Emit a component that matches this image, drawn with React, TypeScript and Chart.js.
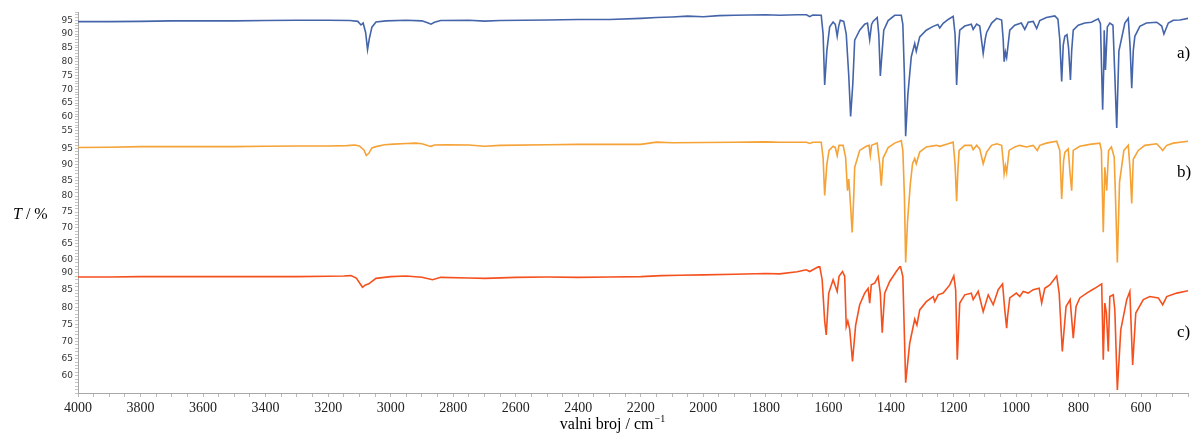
import { useEffect, useRef } from 'react';
import { Chart, registerables } from 'chart.js';

Chart.register(...registerables);

// Wavenumbers (cm^-1) and transmittance (%) for spectrum a)
const waveA = [4000, 3900, 3800, 3700, 3600, 3500, 3400, 3300, 3200, 3130, 3105, 3095, 3088, 3080, 3074, 3068, 3060, 3047, 3015, 2950, 2900, 2880, 2871, 2860, 2840, 2750, 2700, 2650, 2500, 2400, 2300, 2200, 2150, 2100, 2050, 2000, 1950, 1900, 1850, 1800, 1756, 1700, 1670, 1660, 1650, 1623, 1617, 1612, 1605, 1596, 1585, 1578, 1572, 1567, 1562, 1551, 1543, 1535, 1529, 1522, 1516, 1500, 1484, 1475, 1468, 1462, 1457, 1444, 1439, 1434, 1428, 1423, 1409, 1388, 1367, 1362, 1357, 1353, 1346, 1335, 1324, 1319, 1308, 1287, 1265, 1250, 1244, 1233, 1217, 1201, 1195, 1190, 1185, 1180, 1164, 1143, 1137, 1126, 1116, 1105, 1098, 1094, 1078, 1062, 1046, 1041, 1038, 1034, 1030, 1020, 1004, 983, 972, 961, 945, 934, 924, 903, 876, 866, 860, 854, 849, 844, 837, 832, 826, 822, 817, 801, 780, 759, 737, 730, 723, 719, 718, 714, 708, 700, 690, 684, 678, 671, 652, 641, 635, 630, 625, 620, 604, 583, 550, 534, 527, 513, 497, 476, 449];
const transA = [94.5, 94.5, 94.6, 94.8, 94.8, 94.8, 94.9, 95.0, 95.0, 94.9, 94.6, 93.3, 94.0, 90.5, 84.4, 88.5, 92.5, 94.4, 94.8, 95.0, 94.8, 94.0, 93.6, 94.3, 94.9, 95.0, 94.7, 94.9, 95.1, 95.3, 95.3, 95.7, 96.0, 96.2, 96.5, 96.3, 96.7, 96.8, 96.9, 97.0, 96.8, 97.0, 97.0, 96.3, 96.9, 96.8, 90, 71.6, 84, 92.6, 94.4, 93.5, 89.2, 93, 95.0, 94.6, 90, 75, 60.2, 72, 87.8, 91.4, 93.6, 94.0, 88.0, 93.5, 94.6, 96.0, 90, 74.8, 84, 91.4, 94.9, 96.8, 96.8, 93.5, 75, 53.0, 68, 81.8, 86.6, 83.8, 89.0, 91.4, 92.8, 93.5, 92.2, 93.9, 95.3, 96.4, 90, 71.6, 84, 91.4, 92.9, 93.6, 91.7, 93.6, 92.9, 83.0, 88.5, 90.6, 94.0, 95.7, 95.1, 88, 80.0, 83.5, 81.5, 91.4, 93.2, 94.0, 91.7, 94.3, 94.6, 92.0, 94.9, 96.0, 96.6, 95.4, 88, 72.8, 86, 89.2, 89.8, 85, 73.4, 84, 91.4, 93.2, 94.0, 94.3, 95.5, 93.8, 62.6, 80, 91.4, 77.0, 92.6, 94.0, 93.2, 75, 56.0, 83.8, 94.0, 95.7, 85, 70.4, 84, 89.2, 92.8, 94.0, 94.3, 92.9, 90.0, 94.0, 95.0, 95.1, 95.7];

// Spectrum b)
const waveB = [4000, 3900, 3800, 3700, 3500, 3400, 3300, 3200, 3140, 3115, 3100, 3085, 3078, 3070, 3060, 3047, 3020, 2990, 2950, 2920, 2900, 2880, 2871, 2860, 2820, 2750, 2700, 2650, 2500, 2400, 2300, 2200, 2150, 2100, 2000, 1900, 1800, 1756, 1670, 1660, 1650, 1623, 1617, 1612, 1605, 1598, 1585, 1578, 1572, 1566, 1553, 1545, 1539, 1535, 1532, 1528, 1524, 1519, 1516, 1500, 1479, 1470, 1466, 1462, 1444, 1436, 1431, 1425, 1409, 1388, 1367, 1362, 1357, 1353, 1347, 1338, 1331, 1324, 1319, 1308, 1287, 1255, 1244, 1217, 1201, 1195, 1190, 1186, 1182, 1164, 1143, 1137, 1126, 1116, 1105, 1094, 1078, 1062, 1046, 1041, 1038, 1034, 1030, 1022, 1004, 988, 967, 945, 932, 924, 903, 870, 860, 854, 848, 844, 833, 828, 822, 817, 796, 764, 732, 727, 721, 716, 710, 704, 695, 686, 682, 676, 669, 655, 641, 635, 630, 625, 609, 588, 550, 536, 531, 518, 497, 449];
const transB = [95.3, 95.4, 95.6, 95.6, 95.6, 95.7, 95.8, 95.8, 95.9, 96.1, 95.8, 94.5, 92.8, 93.5, 95.2, 95.6, 96.2, 96.4, 96.6, 96.7, 96.5, 95.9, 95.7, 96.1, 96.2, 96.1, 95.7, 96.0, 96.2, 96.3, 96.3, 96.3, 97.0, 96.8, 96.9, 97.0, 97.1, 97.0, 97.0, 96.6, 97.0, 97.0, 92, 80.2, 90, 94.4, 95.7, 95.3, 92.8, 96, 96.0, 92.2, 81.7, 85.4, 81.3, 75, 68.6, 80, 89.1, 94.4, 95.7, 96.0, 92.8, 96.0, 96.7, 90, 83.3, 92, 95.3, 96.7, 97.5, 94.4, 80, 59.1, 72, 83.9, 90.2, 91.8, 90.2, 93.9, 95.5, 96.0, 95.7, 96.5, 97.0, 90, 78.4, 88, 94.4, 96.0, 96.0, 94.6, 96.0, 94.9, 90.2, 93.9, 96.0, 96.5, 96.0, 91, 87.0, 89.6, 87.5, 94.4, 95.5, 96.0, 95.5, 96.0, 94.4, 96.0, 96.7, 97.3, 94.4, 79.1, 91, 93.8, 94.9, 88, 81.7, 94.4, 95.7, 96.3, 96.7, 94.4, 68.6, 89.1, 81.7, 94.4, 95.5, 92.3, 80, 59.1, 84.4, 94.4, 96.0, 88, 77.7, 91.6, 94.4, 96.0, 96.5, 95, 94.4, 96.0, 96.7, 97.3];

// Spectrum c)
const waveC = [4000, 3900, 3800, 3700, 3500, 3400, 3300, 3200, 3150, 3127, 3110, 3090, 3082, 3070, 3047, 3000, 2951, 2900, 2866, 2840, 2750, 2698, 2600, 2500, 2400, 2300, 2200, 2134, 2076, 2000, 1900, 1800, 1756, 1700, 1671, 1660, 1628, 1620, 1612, 1607, 1599, 1585, 1572, 1566, 1555, 1548, 1543, 1538, 1532, 1523, 1513, 1500, 1484, 1473, 1468, 1463, 1452, 1441, 1434, 1428, 1420, 1404, 1383, 1370, 1362, 1353, 1340, 1324, 1317, 1308, 1287, 1265, 1260, 1249, 1233, 1212, 1199, 1193, 1188, 1180, 1164, 1143, 1137, 1121, 1105, 1089, 1073, 1057, 1043, 1036, 1030, 1027, 1020, 999, 988, 977, 961, 945, 926, 918, 908, 892, 870, 862, 852, 840, 827, 817, 808, 796, 774, 748, 726, 721, 716, 711, 705, 700, 689, 684, 676, 665, 646, 636, 627, 617, 593, 572, 545, 531, 518, 486, 449];
const transC = [88.8, 88.8, 88.9, 88.9, 88.9, 88.9, 88.9, 89.0, 89.1, 89.2, 88.5, 85.8, 86.4, 86.8, 88.4, 88.9, 89.1, 88.7, 88.0, 88.7, 88.5, 88.4, 88.7, 88.8, 88.7, 88.8, 88.9, 89.2, 89.3, 89.4, 89.6, 89.8, 89.7, 90.3, 90.9, 90.4, 92.0, 88, 76, 71.9, 84.1, 88.0, 84.6, 89, 90.4, 89, 74.4, 76, 73.6, 64.2, 74.7, 80.7, 84.1, 85.5, 81.2, 86.5, 87, 88.9, 84, 72.6, 84.1, 87.5, 90.4, 92.0, 88.9, 58.0, 69.5, 76.5, 74.8, 79.2, 81.6, 83.1, 81.6, 83.6, 84.1, 86.5, 89.1, 85, 64.7, 81.2, 83.6, 84.1, 82.2, 84.6, 78.7, 83.6, 80.7, 85.1, 86.8, 79.2, 73.9, 77.3, 82.7, 84.1, 83.1, 84.6, 84.1, 85.1, 85.5, 81.2, 85.5, 86.5, 89.1, 84.1, 67.1, 80.2, 82.2, 71.0, 80.2, 82.7, 84.1, 85.5, 86.8, 64.7, 81.2, 78.3, 67.1, 83.1, 83.6, 79.2, 55.9, 73.4, 82.2, 84.6, 63.2, 78.3, 82.2, 83.1, 82.7, 80.7, 83.1, 84.1, 84.8];

const seriesLabels = ['a)', 'b)', 'c)'];
const seriesColors = ['#4565aa', '#f5a236', '#f5511f'];

const xTitle = 'valni broj / cm';
const xTitleSup = '\u22121';
const yTitleItalic = 'T';
const yTitleRest = ' / %';

const zip = (xs: number[], ys: number[]) => xs.map((x, i) => ({ x, y: ys[i] }));

const textPlugin = {
  id: 'extraText',
  afterDraw(chart: any) {
    const ctx = chart.ctx as CanvasRenderingContext2D;
    const area = chart.chartArea;
    ctx.save();
    ctx.fillStyle = '#000';
    ctx.textBaseline = 'middle';
    ctx.textAlign = 'left';
    // series labels
    ctx.font = '17px "Liberation Serif"';
    const ys = ['ya', 'yb', 'yc'].map((id) => chart.scales[id]);
    const labelVals = [83, 87.4, 72.5];
    seriesLabels.forEach((t, i) => {
      ctx.fillText(t, area.right - 11, ys[i].getPixelForValue(labelVals[i]));
    });
    // y title
    const yb = chart.scales['yb'];
    const ty = yb.getPixelForValue(74.2);
    ctx.font = 'italic 16px "Liberation Serif"';
    ctx.fillText(yTitleItalic, 13, ty);
    const w = ctx.measureText(yTitleItalic).width;
    ctx.font = '16px "Liberation Serif"';
    ctx.fillText(yTitleRest, 13 + w, ty);
    // x title
    ctx.font = '16px "Liberation Serif"';
    const w1 = ctx.measureText(xTitle).width;
    ctx.font = '10px "Liberation Serif"';
    const w2 = ctx.measureText(xTitleSup).width;
    const cx = (area.left + area.right) / 2 - 21;
    const x0 = cx - (w1 + w2) / 2;
    ctx.font = '16px "Liberation Serif"';
    ctx.fillText(xTitle, x0, 425);
    ctx.font = '10px "Liberation Serif"';
    ctx.fillText(xTitleSup, x0 + w1 + 1, 419);
    ctx.restore();
  },
};

const yAxis = (min: number, max: number, hidden: number[]) => ({
  type: 'linear',
  position: 'left',
  stack: 'spectra',
  stackWeight: 1,
  min,
  max,
  border: { color: '#a8a8a8', width: 1 },
  grid: { drawOnChartArea: false, tickLength: 3, color: '#c4c4c4' },
  ticks: {
    stepSize: 1,
    autoSkip: false,
    padding: 2,
    color: '#333',
    font: { family: '"DejaVu Sans"', size: 9 },
    callback: (v: number) => (v % 5 === 0 && !hidden.includes(v) ? String(v) : ''),
  },
  afterFit: (s: any) => {
    s.width = 78;
  },
});

export default function App() {
  const ref = useRef<HTMLCanvasElement | null>(null);
  useEffect(() => {
    if (!ref.current) return;
    const chart = new Chart(ref.current, {
      type: 'line',
      data: {
        datasets: [
          { label: seriesLabels[0], data: zip(waveA, transA), yAxisID: 'ya', borderColor: seriesColors[0] },
          { label: seriesLabels[1], data: zip(waveB, transB), yAxisID: 'yb', borderColor: seriesColors[1] },
          { label: seriesLabels[2], data: zip(waveC, transC), yAxisID: 'yc', borderColor: seriesColors[2] },
        ].map((d) => ({ ...d, borderWidth: 1.6, pointRadius: 0, tension: 0, fill: false })),
      },
      options: {
        animation: false,
        responsive: false,
        devicePixelRatio: 1,
        layout: { padding: { left: 0, top: 12, right: 16, bottom: 0 } },
        plugins: { legend: { display: false }, tooltip: { enabled: false } },
        scales: {
          x: {
            type: 'linear',
            reverse: true,
            min: 450,
            max: 4000,
            border: { color: '#a8a8a8', width: 1 },
            grid: { drawOnChartArea: false, tickLength: 4, color: '#b8b8b8' },
            ticks: {
              stepSize: 50,
              autoSkip: false,
              maxRotation: 0,
              padding: 3,
              color: '#222',
              font: { family: '"Liberation Serif"', size: 14 },
              callback: (v: number) => (v % 200 === 0 ? String(v) : ''),
            },
            afterFit: (s: any) => {
              s.height = 42;
            },
          },
          yc: yAxis(55, 92, [55]),
          yb: yAxis(58, 98, []),
          ya: yAxis(52, 98, []),
        } as any,
      },
      plugins: [textPlugin],
    } as any);
    return () => chart.destroy();
  }, []);
  return (
    <div style={{ position: 'absolute', left: 0, top: 0, width: 1204, height: 435 }}>
      <canvas ref={ref} width={1204} height={435} style={{ width: 1204, height: 435, display: 'block' }} />
    </div>
  );
}
